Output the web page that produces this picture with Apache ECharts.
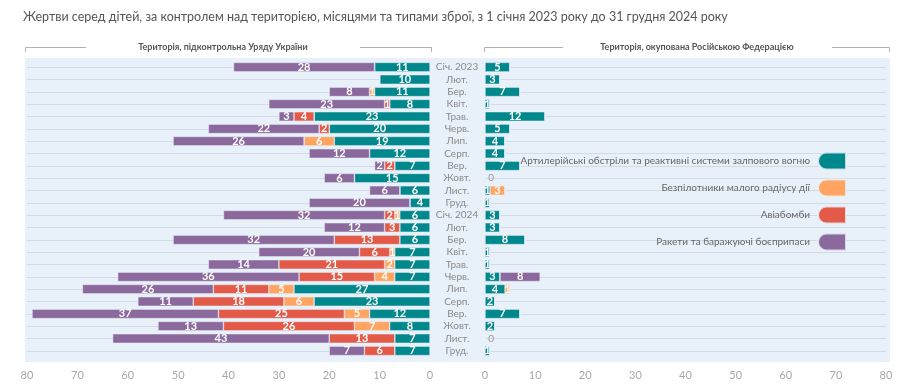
<!DOCTYPE html>
<html><head><meta charset="utf-8">
<script src="https://cdn.jsdelivr.net/npm/echarts@6/dist/echarts.min.js"></script>
<style>html,body{margin:0;padding:0;background:#fff}#c{width:913px;height:392px}</style>
</head><body><div id="c"></div>
<script>
const categories = ['Січ. 2023','Лют.','Бер.','Квіт.','Трав.','Черв.','Лип.','Серп.','Вер.','Жовт.','Лист.','Груд.','Січ. 2024','Лют.','Бер.','Квіт.','Трав.','Черв.','Лип.','Серп.','Вер.','Жовт.','Лист.','Груд.'];
const seriesNames = ['Артилерійські обстріли та реактивні системи залпового вогню','Безпілотники малого радіусу дії','Авіабомби','Ракети та баражуючі боєприпаси'];
const leftArtillery = [11,10,11,8,23,20,19,12,7,15,6,4,6,6,6,7,7,7,27,23,12,8,7,7];
const leftDrones    = [0,0,1,0,0,0,6,0,0,0,0,0,1,0,0,1,2,4,5,6,5,7,0,0];
const leftBombs     = [0,0,0,1,4,2,0,0,2,0,0,0,2,3,13,6,21,15,11,18,25,26,13,6];
const leftRockets   = [28,0,8,23,3,22,26,12,2,6,6,20,32,12,32,20,14,36,26,11,37,13,43,7];
const rightArtillery = [5,3,7,1,12,5,4,4,7,0,1,1,3,3,8,1,1,3,4,2,7,2,0,1];
const rightDrones    = [0,0,0,0,0,0,0,0,0,0,3,0,0,0,0,0,0,0,1,0,0,0,0,0];
const rightBombs     = [0,0,0,0,0,0,0,0,0,0,0,0,0,0,0,0,0,0,0,0,0,0,0,0];
const rightRockets   = [0,0,0,0,0,0,0,0,0,0,0,0,0,0,0,0,0,8,0,0,0,0,0,0];
const axisTicks = [0,10,20,30,40,50,60,70,80];
const colors = ['#00888c','#ffa561','#e35b48','#8c699c'];

const FONT = 'Lato, "Noto Sans", sans-serif';
const chart = echarts.init(document.getElementById('c'), null, {renderer:'canvas'});

const barLabel = {show:true, position:'inside', color:'#fff', fontWeight:'bold', fontSize:11, fontFamily:FONT,
  formatter: p => (p.value > 0 ? String(p.value) : '')};

function mkSeries(name, data, idx, side, color) {
  return {
    type:'bar', name, stack: side, xAxisIndex: idx, yAxisIndex: idx,
    barWidth: 9.5, data,
    itemStyle:{color, borderColor:'rgba(232,241,250,0.8)', borderWidth:0.6},
    label: barLabel, emphasis:{disabled:true}, silent:true
  };
}

const rightArtData = rightArtillery.map((v,i) => {
  const tot = rightArtillery[i]+rightDrones[i]+rightBombs[i]+rightRockets[i];
  if (tot === 0) return {value:0, label:{show:true, position:'right', distance:3, color:'#999', fontWeight:'normal', fontSize:10, formatter:'0'}};
  return v;
});

const leftData = [leftArtillery, leftDrones, leftBombs, leftRockets];
const rightData = [rightArtData, rightDrones, rightBombs, rightRockets];
const series = [];
for (let k=0;k<4;k++) series.push(mkSeries(seriesNames[k], leftData[k], 0, 'L', colors[k]));
for (let k=0;k<4;k++) series.push(mkSeries(seriesNames[k], rightData[k], 1, 'R', colors[k]));

const valAxisCommon = {
  type:'value', min:axisTicks[0], max:axisTicks[axisTicks.length-1], interval:axisTicks[1]-axisTicks[0],
  axisLine:{show:false}, axisTick:{show:false}, splitLine:{show:false},
  axisLabel:{color:'#a8a8a8', fontSize:11, fontFamily:FONT, margin:13}
};
const splitL = {show:true, interval:0, alignWithLabel:true, lineStyle:{color:'#d2dbe4', width:1}};

const legendIcon = 'path://M8.5,0 L28,0 L28,17 L8.5,17 A8.5,8.5 0 0 1 8.5,0 Z';

chart.setOption({
  animation:false,
  textStyle:{fontFamily:FONT},
  graphic:[
    {type:'rect', z:-10, shape:{x:25,y:58,width:865,height:304}, style:{fill:'#e8f1fa'}},
    {type:'text', left:23, top:10, style:{text:'Жертви серед дітей, за контролем над територією, місяцями та типами зброї, з 1 січня 2023 року до 31 грудня 2024 року', fill:'#555', fontSize:12.5, fontFamily:FONT}},
    {type:'polyline', shape:{points:[[25.5,52],[25.5,47.5],[86,47.5]]}, style:{stroke:'#b0b0b0', lineWidth:1, fill:null}},
    {type:'polyline', shape:{points:[[360,47.5],[431.5,47.5],[431.5,52]]}, style:{stroke:'#b0b0b0', lineWidth:1, fill:null}},
    {type:'polyline', shape:{points:[[484.5,52],[484.5,47.5],[563,47.5]]}, style:{stroke:'#b0b0b0', lineWidth:1, fill:null}},
    {type:'polyline', shape:{points:[[832,47.5],[889.5,47.5],[889.5,52]]}, style:{stroke:'#b0b0b0', lineWidth:1, fill:null}},
    {type:'text', x:223, y:47.5, style:{text:'Територія, підконтрольна Уряду України', fill:'#555', fontSize:9, fontWeight:'bold', fontFamily:FONT, align:'center', verticalAlign:'middle'}},
    {type:'text', x:697, y:47.5, style:{text:'Територія, окупована Російською Федерацією', fill:'#555', fontSize:9, fontWeight:'bold', fontFamily:FONT, align:'center', verticalAlign:'middle'}}
  ],
  legend:{
    orient:'vertical', right:66, top:151.5, align:'right', padding:0,
    itemWidth:28, itemHeight:17, itemGap:8,
    icon: legendIcon,
    data: seriesNames,
    textStyle:{color:'#666', fontSize:10, fontFamily:FONT, padding:[0,3,0,0]},
    selectedMode:false
  },
  grid:[
    {left:27, right:483, top:61, height:296, containLabel:false},
    {left:485, right:27, top:61, height:296, containLabel:false}
  ],
  xAxis:[
    Object.assign({}, valAxisCommon, {gridIndex:0, inverse:true}),
    Object.assign({}, valAxisCommon, {gridIndex:1})
  ],
  yAxis:[
    {type:'category', gridIndex:0, data:categories, inverse:true, position:'right',
     axisLine:{show:false}, axisTick:{show:false}, splitLine:splitL,
     axisLabel:{color:'#8a8a8a', fontSize:10, fontFamily:FONT, align:'center', margin:27, interval:0}},
    {type:'category', gridIndex:1, data:categories, inverse:true, position:'left',
     axisLine:{show:false}, axisTick:{show:false}, splitLine:splitL,
     axisLabel:{show:false, interval:0}}
  ],
  series
});
</script></body></html>
